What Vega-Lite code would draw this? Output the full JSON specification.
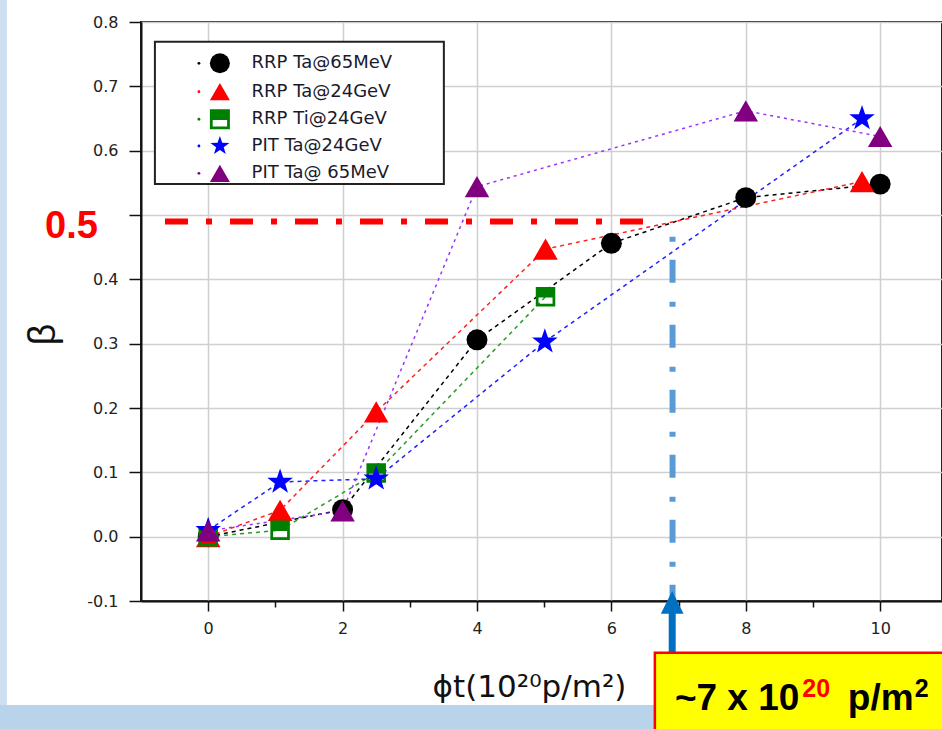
{
  "$schema": "https://vega.github.io/schema/vega-lite/v6.json",
  "width": 801,
  "height": 579,
  "autosize": {"type": "none"},
  "padding": {"left": 141, "top": 22, "right": 0, "bottom": 128},
  "background": "white",
  "config": {
    "view": {"stroke": "#222", "strokeWidth": 2},
    "axis": {
      "labelFont": "DejaVu Sans", "labelFontSize": 16, "labelColor": "#222",
      "tickColor": "#111", "domainColor": "#111", "gridColor": "#cfcfcf", "gridWidth": 1.5,
      "tickWidth": 1.5, "domainWidth": 2, "titleFontWeight": "normal", "titleColor": "#111"
    }
  },
  "datasets": {
    "series": [
      {"series": "RRP Ta@65MeV", "x": 0, "y": 0.0},
      {"series": "RRP Ta@65MeV", "x": 2, "y": 0.042},
      {"series": "RRP Ta@65MeV", "x": 4, "y": 0.306},
      {"series": "RRP Ta@65MeV", "x": 6, "y": 0.456},
      {"series": "RRP Ta@65MeV", "x": 8, "y": 0.527},
      {"series": "RRP Ta@65MeV", "x": 10, "y": 0.548},
      {"series": "RRP Ta@24GeV", "x": 0, "y": 0.0},
      {"series": "RRP Ta@24GeV", "x": 1.07, "y": 0.041},
      {"series": "RRP Ta@24GeV", "x": 2.5, "y": 0.194},
      {"series": "RRP Ta@24GeV", "x": 5.02, "y": 0.447},
      {"series": "RRP Ta@24GeV", "x": 9.73, "y": 0.552},
      {"series": "RRP Ti@24GeV", "x": 0, "y": 0.0},
      {"series": "RRP Ti@24GeV", "x": 1.07, "y": 0.01},
      {"series": "RRP Ti@24GeV", "x": 2.5, "y": 0.099},
      {"series": "RRP Ti@24GeV", "x": 5.02, "y": 0.373},
      {"series": "PIT Ta@24GeV", "x": 0, "y": 0.01},
      {"series": "PIT Ta@24GeV", "x": 1.07, "y": 0.085},
      {"series": "PIT Ta@24GeV", "x": 2.5, "y": 0.09},
      {"series": "PIT Ta@24GeV", "x": 5.01, "y": 0.303},
      {"series": "PIT Ta@24GeV", "x": 9.73, "y": 0.65},
      {"series": "PIT Ta@ 65MeV", "x": 0, "y": 0.009},
      {"series": "PIT Ta@ 65MeV", "x": 2, "y": 0.04},
      {"series": "PIT Ta@ 65MeV", "x": 4, "y": 0.544},
      {"series": "PIT Ta@ 65MeV", "x": 8, "y": 0.662},
      {"series": "PIT Ta@ 65MeV", "x": 10, "y": 0.622}
    ],
    "legend": [
      {"series": "RRP Ta@65MeV", "dx": -0.138, "sx": 0.174, "tx": 0.646, "ly": 0.7358},
      {"series": "RRP Ta@24GeV", "dx": -0.138, "sx": 0.174, "tx": 0.646, "ly": 0.6917},
      {"series": "RRP Ti@24GeV", "dx": -0.138, "sx": 0.174, "tx": 0.646, "ly": 0.6488},
      {"series": "PIT Ta@24GeV", "dx": -0.138, "sx": 0.174, "tx": 0.646, "ly": 0.6073},
      {"series": "PIT Ta@ 65MeV", "dx": -0.138, "sx": 0.174, "tx": 0.646, "ly": 0.5648}
    ]
  },
  "layer": [
    {
      "data": {"values": [{"x": -3.6, "x2": -2.996, "y": 0.95, "y2": -0.4}]},
      "mark": {"type": "rect", "fill": "#cddff0"},
      "encoding": {
        "x": {"field": "x", "type": "quantitative", "scale": {"domain": [-1, 10.92], "nice": false, "zero": false},
          "axis": {"values": [0, 1, 2, 3, 4, 5, 6, 7, 8, 9, 10], "orient": "bottom", "grid": true,
            "gridOpacity": {"condition": {"test": "datum.value % 2 === 1", "value": 0}, "value": 1},
            "tickSize": {"condition": {"test": "datum.value % 2 === 1", "value": 6}, "value": 10},
            "labelPadding": 9, "labelExpr": "datum.value % 2 === 1 ? '' : format(datum.value, 'd')",
            "title": "ϕt(10²⁰p/m²)", "titleFont": "DejaVu Sans", "titleFontSize": 31, "titleX": 388, "titleY": 86,
            "titleBaseline": "middle", "titleAlign": "center"}},
        "x2": {"field": "x2"},
        "y": {"field": "y", "type": "quantitative", "scale": {"domain": [-0.1, 0.8], "nice": false, "zero": false},
          "axis": {"values": [-0.1, -0.05, 0, 0.05, 0.1, 0.15, 0.2, 0.25, 0.3, 0.35, 0.4, 0.45, 0.5, 0.55, 0.6, 0.65, 0.7, 0.75, 0.8],
            "orient": "left", "grid": true,
            "gridOpacity": {"condition": {"test": "abs(round(datum.value * 20) % 2) === 1", "value": 0}, "value": 1},
            "tickSize": {"condition": {"test": "abs(round(datum.value * 20) % 2) === 1", "value": 7}, "value": 12},
            "labelPadding": 11,
            "labelExpr": "(abs(round(datum.value * 20) % 2) === 1 || round(datum.value * 20) === 10) ? '' : replace(format(datum.value, '.1f'), '\u2212', '-')",
            "title": "β", "titleFont": "Liberation Sans", "titleFontSize": 38, "titleAngle": 270, "titleX": -98, "titleY": 312,
            "titleBaseline": "middle", "titleAlign": "center"}},
        "y2": {"field": "y2"}
      }
    },
    {
      "data": {"values": [{"x": -3.6, "x2": 11.5, "y": -0.2616, "y2": -0.4}]},
      "mark": {"type": "rect", "fill": "#b8d3ea"},
      "encoding": {
        "x": {"field": "x", "type": "quantitative"},
        "x2": {"field": "x2"},
        "y": {"field": "y", "type": "quantitative"},
        "y2": {"field": "y2"}
      }
    },
    {
      "data": {"values": [{"x": -0.793, "x2": 3.507, "y": 0.7694, "y2": 0.5482}]},
      "mark": {"type": "rect", "fill": "white", "stroke": "#222", "strokeWidth": 2},
      "encoding": {
        "x": {"field": "x", "type": "quantitative"},
        "x2": {"field": "x2"},
        "y": {"field": "y", "type": "quantitative"},
        "y2": {"field": "y2"}
      }
    },
    {
      "data": {"name": "series"},
      "transform": [{"filter": "datum.series !== 'PIT Ta@ 65MeV'"}],
      "mark": {"type": "line", "strokeWidth": 1.5, "strokeDash": [4, 4]},
      "encoding": {
        "x": {"field": "x", "type": "quantitative"},
        "y": {"field": "y", "type": "quantitative"},
        "stroke": {"field": "series", "type": "nominal", "legend": null,
          "scale": {"domain": ["RRP Ta@65MeV", "RRP Ta@24GeV", "RRP Ti@24GeV", "PIT Ta@24GeV", "PIT Ta@ 65MeV"],
            "range": ["#000000", "#ff2020", "#2a9a2a", "#2020ff", "#9933ff"]}}
      }
    },
    {
      "data": {"name": "series"},
      "transform": [{"filter": "datum.series === 'PIT Ta@ 65MeV'"}],
      "mark": {"type": "line", "strokeWidth": 1.5, "strokeDash": [3, 4], "color": "#9933ff"},
      "encoding": {
        "x": {"field": "x", "type": "quantitative"},
        "y": {"field": "y", "type": "quantitative"}
      }
    },
    {
      "data": {"name": "series"},
      "mark": {"type": "point", "filled": true, "opacity": 1, "strokeWidth": 0},
      "encoding": {
        "x": {"field": "x", "type": "quantitative"},
        "y": {"field": "y", "type": "quantitative"},
        "color": {"field": "series", "type": "nominal", "legend": null,
          "scale": {"domain": ["RRP Ta@65MeV", "RRP Ta@24GeV", "RRP Ti@24GeV", "PIT Ta@24GeV", "PIT Ta@ 65MeV"],
            "range": ["#000000", "#ff0000", "#008000", "#0000ff", "#800080"]}},
        "shape": {"field": "series", "type": "nominal", "legend": null,
          "scale": {"domain": ["RRP Ta@65MeV", "RRP Ta@24GeV", "RRP Ti@24GeV", "PIT Ta@24GeV", "PIT Ta@ 65MeV"],
            "range": ["circle", "triangle-up", "M-1,-1H1V1H-1Z M-0.72,0.08V0.72H0.72V0.08Z",
              "M0,-1L0.235,-0.324L0.951,-0.309L0.38,0.124L0.588,0.809L0,0.4L-0.588,0.809L-0.38,0.124L-0.951,-0.309L-0.235,-0.324Z",
              "triangle-up"]}},
        "size": {"field": "series", "type": "nominal", "legend": null,
          "scale": {"type": "ordinal", "domain": ["RRP Ta@65MeV", "RRP Ta@24GeV", "RRP Ti@24GeV", "PIT Ta@24GeV", "PIT Ta@ 65MeV"],
            "range": [440, 600, 380, 720, 600]}}
      }
    },
    {
      "data": {"name": "legend"},
      "mark": {"type": "point", "filled": true, "opacity": 1, "strokeWidth": 0, "size": 8, "shape": "circle"},
      "encoding": {
        "x": {"field": "dx", "type": "quantitative"},
        "y": {"field": "ly", "type": "quantitative"},
        "color": {"field": "series", "type": "nominal", "legend": null}
      }
    },
    {
      "data": {"name": "legend"},
      "mark": {"type": "point", "filled": true, "opacity": 1, "strokeWidth": 0, "size": 400},
      "encoding": {
        "x": {"field": "sx", "type": "quantitative"},
        "y": {"field": "ly", "type": "quantitative"},
        "color": {"field": "series", "type": "nominal", "legend": null},
        "shape": {"field": "series", "type": "nominal", "legend": null}
      }
    },
    {
      "data": {"name": "legend"},
      "mark": {"type": "text", "font": "DejaVu Sans", "fontSize": 18, "color": "#1a1a2e", "align": "left", "baseline": "middle"},
      "encoding": {
        "x": {"field": "tx", "type": "quantitative"},
        "y": {"field": "ly", "type": "quantitative"},
        "text": {"field": "series"}
      }
    },
    {
      "data": {"values": [{"x": -0.643, "x2": 6.65, "y": 0.49}]},
      "mark": {"type": "rule", "color": "#ff0000", "strokeWidth": 6, "strokeDash": [23, 18, 6, 18]},
      "encoding": {
        "x": {"field": "x", "type": "quantitative"},
        "x2": {"field": "x2"},
        "y": {"field": "y", "type": "quantitative"}
      }
    },
    {
      "data": {"values": [{"x": 6.91, "y": 0.466, "y2": -0.1}]},
      "mark": {"type": "rule", "color": "#5b9bd5", "strokeWidth": 6, "strokeDash": [5, 18, 23, 19]},
      "encoding": {
        "x": {"field": "x", "type": "quantitative"},
        "y": {"field": "y", "type": "quantitative"},
        "y2": {"field": "y2"}
      }
    },
    {
      "data": {"values": [{"x": 6.905, "y": -0.118, "y2": -0.185}]},
      "mark": {"type": "rule", "color": "#0070c0", "strokeWidth": 7},
      "encoding": {
        "x": {"field": "x", "type": "quantitative"},
        "y": {"field": "y", "type": "quantitative"},
        "y2": {"field": "y2"}
      }
    },
    {
      "data": {"values": [{"x": 6.905, "y": -0.102}]},
      "mark": {"type": "point", "shape": "M0,-1L1,1L-1,1Z", "size": 520, "filled": true, "opacity": 1, "color": "#0070c0", "strokeWidth": 0},
      "encoding": {
        "x": {"field": "x", "type": "quantitative"},
        "y": {"field": "y", "type": "quantitative"}
      }
    },
    {
      "data": {"values": [{"x": 6.647, "x2": 11.5, "y": -0.1803, "y2": -0.4}]},
      "mark": {"type": "rect", "fill": "#ffff00", "stroke": "#ff0000", "strokeWidth": 2.5},
      "encoding": {
        "x": {"field": "x", "type": "quantitative"},
        "x2": {"field": "x2"},
        "y": {"field": "y", "type": "quantitative"},
        "y2": {"field": "y2"}
      }
    },
    {
      "data": {"values": [{"x": 6.945, "y": -0.2694, "label": "~7 x 10"}]},
      "mark": {"type": "text", "font": "Liberation Sans", "fontWeight": "bold", "fontSize": 37, "color": "#000000", "align": "left", "baseline": "alphabetic"},
      "encoding": {
        "x": {"field": "x", "type": "quantitative"},
        "y": {"field": "y", "type": "quantitative"},
        "text": {"field": "label"}
      }
    },
    {
      "data": {"values": [{"x": 8.84, "y": -0.2491, "label": "20"}]},
      "mark": {"type": "text", "font": "Liberation Sans", "fontWeight": "bold", "fontSize": 25, "color": "#ff0000", "align": "left", "baseline": "alphabetic"},
      "encoding": {
        "x": {"field": "x", "type": "quantitative"},
        "y": {"field": "y", "type": "quantitative"},
        "text": {"field": "label"}
      }
    },
    {
      "data": {"values": [{"x": 9.519, "y": -0.2694, "label": "p/m"}]},
      "mark": {"type": "text", "font": "Liberation Sans", "fontWeight": "bold", "fontSize": 37, "color": "#000000", "align": "left", "baseline": "alphabetic"},
      "encoding": {
        "x": {"field": "x", "type": "quantitative"},
        "y": {"field": "y", "type": "quantitative"},
        "text": {"field": "label"}
      }
    },
    {
      "data": {"values": [{"x": 10.516, "y": -0.2491, "label": "2"}]},
      "mark": {"type": "text", "font": "Liberation Sans", "fontWeight": "bold", "fontSize": 25, "color": "#000000", "align": "left", "baseline": "alphabetic"},
      "encoding": {
        "x": {"field": "x", "type": "quantitative"},
        "y": {"field": "y", "type": "quantitative"},
        "text": {"field": "label"}
      }
    },
    {
      "data": {"values": [{"x": -2.034, "y": 0.4643, "label": "0.5"}]},
      "mark": {"type": "text", "font": "Liberation Sans", "fontWeight": "bold", "fontSize": 38, "color": "#ff0000", "align": "center", "baseline": "alphabetic"},
      "encoding": {
        "x": {"field": "x", "type": "quantitative"},
        "y": {"field": "y", "type": "quantitative"},
        "text": {"field": "label"}
      }
    }
  ]
}
